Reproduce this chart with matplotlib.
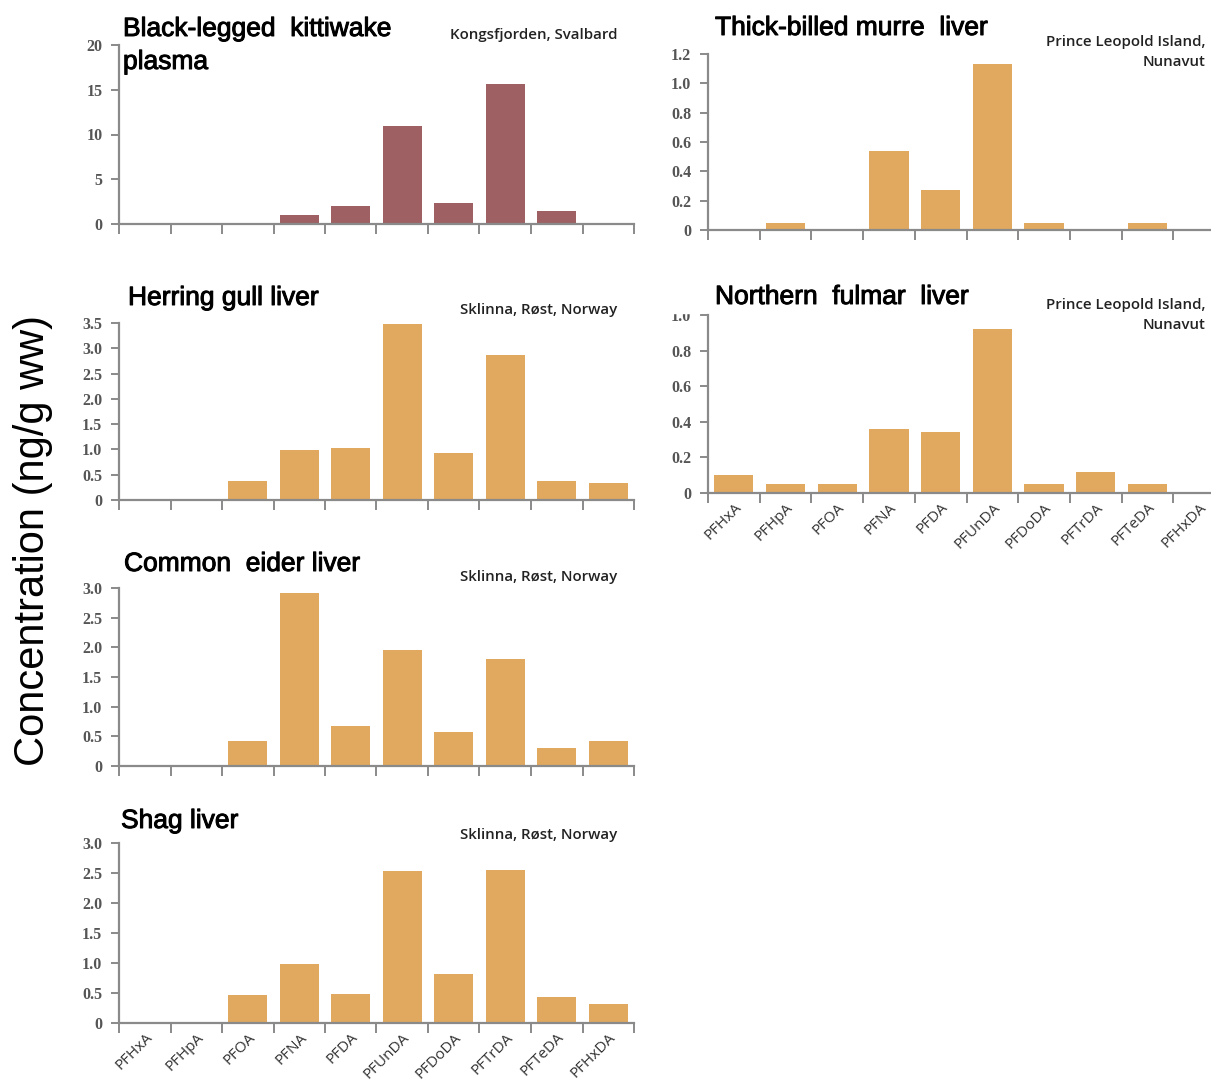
import matplotlib
matplotlib.use("Agg")
import matplotlib.pyplot as plt
import matplotlib.patheffects as pe
from matplotlib.ticker import FuncFormatter, MultipleLocator
from matplotlib.patches import Rectangle

W, H = 1211, 1085

compounds = ['PFHxA', 'PFHpA', 'PFOA', 'PFNA', 'PFDA', 'PFUnDA',
             'PFDoDA', 'PFTrDA', 'PFTeDA', 'PFHxDA']

kittiwake = [0, 0, 0.12, 1.0, 2.0, 11.0, 2.4, 15.6, 1.5, 0]
herring_gull = [0.02, 0.02, 0.38, 0.99, 1.02, 3.48, 0.92, 2.87, 0.38, 0.34]
eider = [0, 0, 0.42, 2.92, 0.67, 1.95, 0.57, 1.81, 0.31, 0.42]
shag = [0.01, 0.01, 0.46, 0.98, 0.49, 2.53, 0.82, 2.55, 0.43, 0.32]
murre = [0.01, 0.05, 0.01, 0.54, 0.27, 1.13, 0.05, 0.005, 0.05, 0]
fulmar = [0.10, 0.05, 0.05, 0.36, 0.34, 0.92, 0.05, 0.12, 0.05, 0]

ORANGE = '#E0A95F'
MAROON = '#9E6062'
AXIS_GREY = '#8a8a8a'


def px_box(left, right, top, bottom):
    # pixel box -> figure fraction [l, b, w, h]
    return [left / W, 1 - bottom / H, (right - left) / W, (bottom - top) / H]


def fx(x):
    return x / W


def fy(y):
    return 1 - y / H


def draw_panel(ax, values, color, ymax, step, fmt, show_labels):
    x = [i + 0.5 for i in range(len(values))]
    ax.bar(x, values, width=0.76, color=color, edgecolor='none')
    ax.set_xlim(0, len(values))
    ax.set_ylim(0, ymax)
    ax.yaxis.set_major_locator(MultipleLocator(step))
    ax.yaxis.set_major_formatter(FuncFormatter(
        lambda v, p: '0' if abs(v) < 1e-9 else fmt % v))
    ax.set_xticks(range(len(values) + 1))
    ax.set_xticklabels([])
    if show_labels:
        ax.set_xticks(x, minor=True)
        ax.set_xticklabels(compounds, minor=True, rotation=45, ha='right',
                           rotation_mode='anchor', family='Open Sans',
                           fontsize=11, color='#333333')
        ax.tick_params(axis='x', which='minor', length=0, pad=5)
    for s in ['top', 'right']:
        ax.spines[s].set_visible(False)
    for s in ['left', 'bottom']:
        ax.spines[s].set_color(AXIS_GREY)
        ax.spines[s].set_linewidth(1.6)
    ax.tick_params(axis='x', which='major', direction='out', length=7,
                   width=1.4, color=AXIS_GREY)
    ax.tick_params(axis='y', direction='out', length=6, width=1.4,
                   color=AXIS_GREY, pad=6)
    for lab in ax.get_yticklabels():
        lab.set_family('Liberation Serif')
        lab.set_fontweight('bold')
        lab.set_fontsize(11.5)
        lab.set_color('#555555')


fig = plt.figure(figsize=(W / 100, H / 100), dpi=100)

L0, L1 = 119, 634
R0, R1 = 708, 1225

ax1 = fig.add_axes(px_box(L0, L1, 45, 224))
draw_panel(ax1, kittiwake, MAROON, 20, 5, '%d', False)
ax2 = fig.add_axes(px_box(L0, L1, 323, 500))
draw_panel(ax2, herring_gull, ORANGE, 3.5, 0.5, '%.1f', False)
ax3 = fig.add_axes(px_box(L0, L1, 588, 766))
draw_panel(ax3, eider, ORANGE, 3.0, 0.5, '%.1f', False)
ax4 = fig.add_axes(px_box(L0, L1, 843, 1023))
draw_panel(ax4, shag, ORANGE, 3.0, 0.5, '%.1f', True)
ax5 = fig.add_axes(px_box(R0, R1, 54, 230))
draw_panel(ax5, murre, ORANGE, 1.2, 0.2, '%.1f', False)
ax6 = fig.add_axes(px_box(R0, R1, 315, 493))
draw_panel(ax6, fulmar, ORANGE, 1.0, 0.2, '%.1f', True)

# top of the fulmar "1.0" label is hidden in the original
fig.patches.append(Rectangle((fx(640), fy(313)), fx(60), 30 / H,
                             transform=fig.transFigure, color='white',
                             zorder=10))

bold_edge = [pe.withStroke(linewidth=0.7, foreground='black')]
title_kw = dict(family='Liberation Sans', fontsize=19, color='black',
                va='center', ha='left', path_effects=bold_edge)
fig.text(fx(123), fy(29), 'Black-legged  kittiwake', **title_kw)
fig.text(fx(123), fy(62), 'plasma', **title_kw)
fig.text(fx(128), fy(298), 'Herring gull liver', **title_kw)
fig.text(fx(124), fy(564), 'Common  eider liver', **title_kw)
fig.text(fx(121), fy(821), 'Shag liver', **title_kw)
fig.text(fx(715), fy(28), 'Thick-billed murre  liver', **title_kw)
fig.text(fx(715), fy(297), 'Northern  fulmar  liver', **title_kw)

site_kw = dict(family='Open Sans', fontsize=10.8, fontweight='semibold',
               color='#222222', va='center', ha='right')
fig.text(fx(617), fy(35), 'Kongsfjorden, Svalbard', **site_kw)
fig.text(fx(617), fy(310), 'Sklinna, Røst, Norway', **site_kw)
fig.text(fx(617), fy(577), 'Sklinna, Røst, Norway', **site_kw)
fig.text(fx(617), fy(835), 'Sklinna, Røst, Norway', **site_kw)
fig.text(fx(1205), fy(42), 'Prince Leopold Island,', **site_kw)
fig.text(fx(1205), fy(62), 'Nunavut', **site_kw)
fig.text(fx(1205), fy(305), 'Prince Leopold Island,', **site_kw)
fig.text(fx(1205), fy(325), 'Nunavut', **site_kw)

fig.text(fx(33), fy(541), 'Concentration (ng/g ww)', rotation=90,
         family='Liberation Sans', fontsize=30, ha='center', va='center')

fig.savefig('out.png', dpi=100)
